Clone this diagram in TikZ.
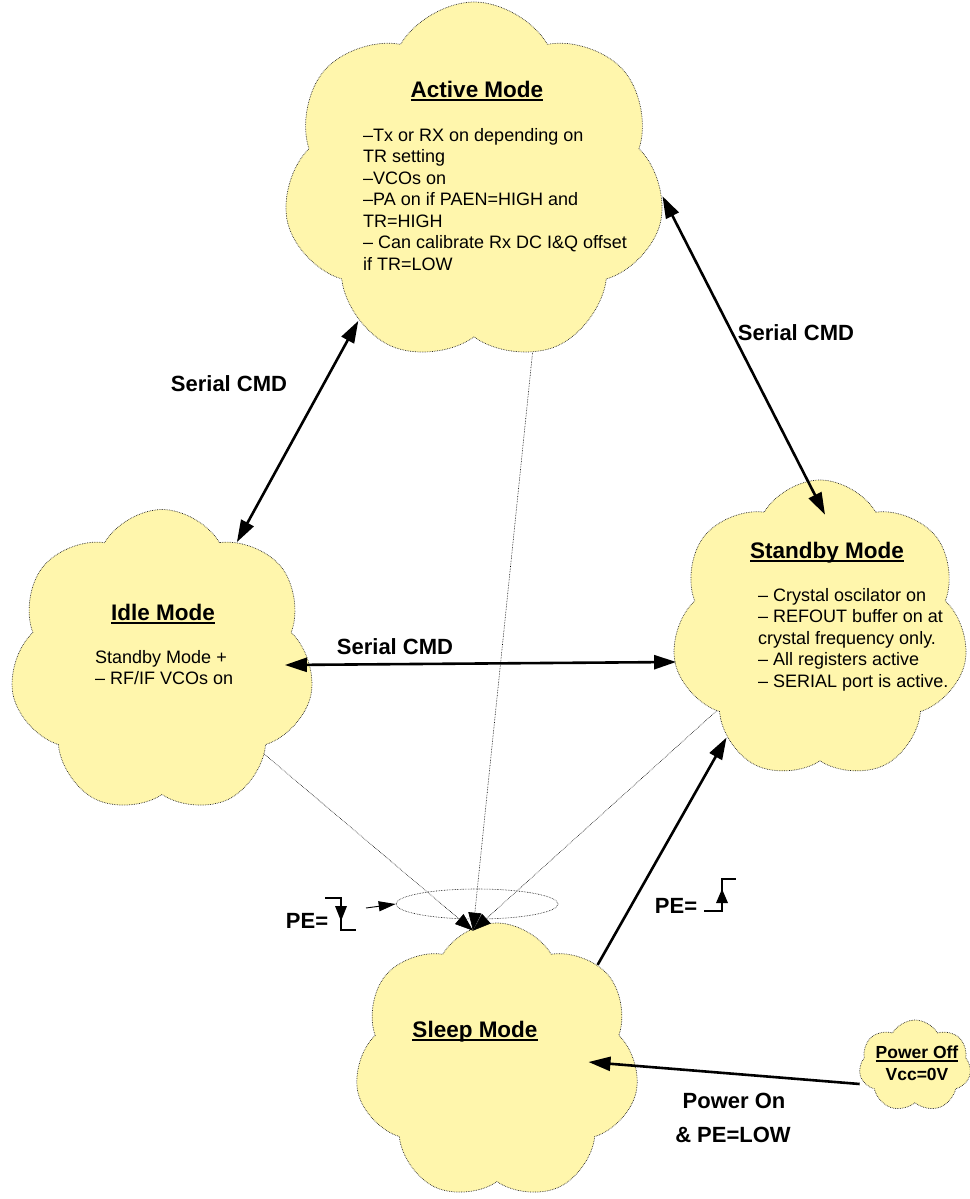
\documentclass[tikz,border=0pt]{standalone}
\usepackage{fontspec}
\setmainfont{Liberation Sans}
\usetikzlibrary{shapes.symbols,shapes.geometric,arrows.meta}

\definecolor{cloudfill}{RGB}{255,246,172}

\newcommand{\titleline}[1]{\setbox0=\hbox{#1}\rlap{\rule[-3.5pt]{\wd0}{1.8pt}}\box0}

\tikzstyle{state} = [cloud, cloud puffs=7, cloud puff arc=120, aspect=1,
    draw=black!85, densely dotted, line width=0.7pt, fill=cloudfill, inner sep=0pt]
\tikzstyle{title} = [font=\fontsize{22.5}{26}\selectfont\bfseries, anchor=base, inner sep=0pt]
\tikzstyle{body} = [font=\fontsize{18}{21.5}\selectfont, align=left, anchor=north west, inner sep=0pt]
\tikzstyle{label} = [font=\fontsize{22}{34}\selectfont\bfseries, anchor=base, inner sep=0pt]
\tikzstyle{line} = [draw, line width=2.6pt, -{Triangle[length=22pt,width=14pt]}]
\tikzstyle{both} = [line, {Triangle[length=22pt,width=14pt]}-{Triangle[length=22pt,width=14pt]}]
\tikzstyle{faint} = [draw, densely dotted, line width=0.6pt, -{Triangle[length=18pt,width=13pt]}]

\begin{document}
\begin{tikzpicture}[x=1pt, y=-1pt]
    \useasboundingbox (0,0) rectangle (969,1199);

    % the five modes
    \node [state, minimum width=382pt, minimum height=362pt] (active) at (474,183) {};
    \node [state, minimum width=297pt, minimum height=300pt] (standby) at (820,630) {};
    \node [state, minimum width=305pt, minimum height=305pt] (idle) at (162,662) {};
    \node [state, shape border rotate=20, minimum width=285pt, minimum height=278pt] (sleep) at (497,1062) {};
    \node [state, minimum width=112pt, minimum height=92pt] (poweroff) at (915,1066) {};

    \node [title] (activetitle) at (477,97) {\titleline{Active Mode}};
    \node [body] (activetext) at (363,128) {--Tx or RX on depending on\\TR setting\\--VCOs on\\--PA on if PAEN=HIGH and\\TR=HIGH\\-- Can calibrate Rx DC I\&Q offset\\if TR=LOW};

    \node [title] (standbytitle) at (827,558) {\titleline{Standby Mode}};
    \node [body] (standbytext) at (758,588) {-- Crystal oscilator on\\-- REFOUT buffer on at\\crystal frequency only.\\-- All registers active\\-- SERIAL port is active.};

    \node [title] (idletitle) at (163,620) {\titleline{Idle Mode}};
    \node [body] (idletext) at (95,650) {Standby Mode +\\-- RF/IF VCOs on};

    \node [title] (sleeptitle) at (475,1037) {\titleline{Sleep Mode}};

    \node [font=\fontsize{17.5}{22}\selectfont\bfseries, align=center, anchor=base, inner sep=0pt] (powerofftext) at (917,1080)
        {\titleline{Power Off}\\Vcc=0V};

    % transitions
    \coordinate (sleeptop) at ([xshift=-24pt,yshift=-8pt]sleep.north);
    \path [both] (idle.58) -- (active.230);
    \path [both] (active.-4) -- ([xshift=5pt,yshift=-35pt]standby.north);
    \path [both] ([xshift=-25pt,yshift=-3pt]idle.east) -- ([yshift=-32pt]standby.west);
    \path [line] (sleep.44) -- (standby.229);
    \path [line] ([yshift=-18pt]poweroff.west) -- ([xshift=-47pt]sleep.east);

    \path [faint] (idle.-42) -- (sleeptop);
    \path [faint] (active.-71) -- (sleeptop);
    \path [faint] (standby.218) -- (sleeptop);

    \node [ellipse, draw, densely dotted, line width=0.6pt, minimum width=162pt, minimum height=30pt] (pering) at (477,904) {};
    \coordinate (pehint) at (366,908);
    \path [draw, line width=0.9pt, -{Triangle[length=17pt,width=10pt]}] (pehint) -- (pering.west);

    \node [label] (serialleft) at (229,391) {Serial CMD};
    \node [label] (serialright) at (796,340) {Serial CMD};
    \node [label] (serialmid) at (395,654) {Serial CMD};
    \node [label] (powerontext) at (734,1108) {Power On};
    \node [label] (pelowtext) at (733,1142) {\& PE=LOW};

    % PE edges
    \node [label] (pefall) at (307,928) {PE=};
    \draw [line width=1.3pt] (325,898) -- (341,898) -- (341,930) -- (356,930);
    \fill (335,906) -- (347,906) -- (341,921) -- cycle;

    \node [label] (perise) at (676,913) {PE=};
    \draw [line width=1.3pt] (704,911) -- (722,911) -- (722,879) -- (736,879);
    \fill (716,903) -- (728,903) -- (722,889) -- cycle;
\end{tikzpicture}
\end{document}
